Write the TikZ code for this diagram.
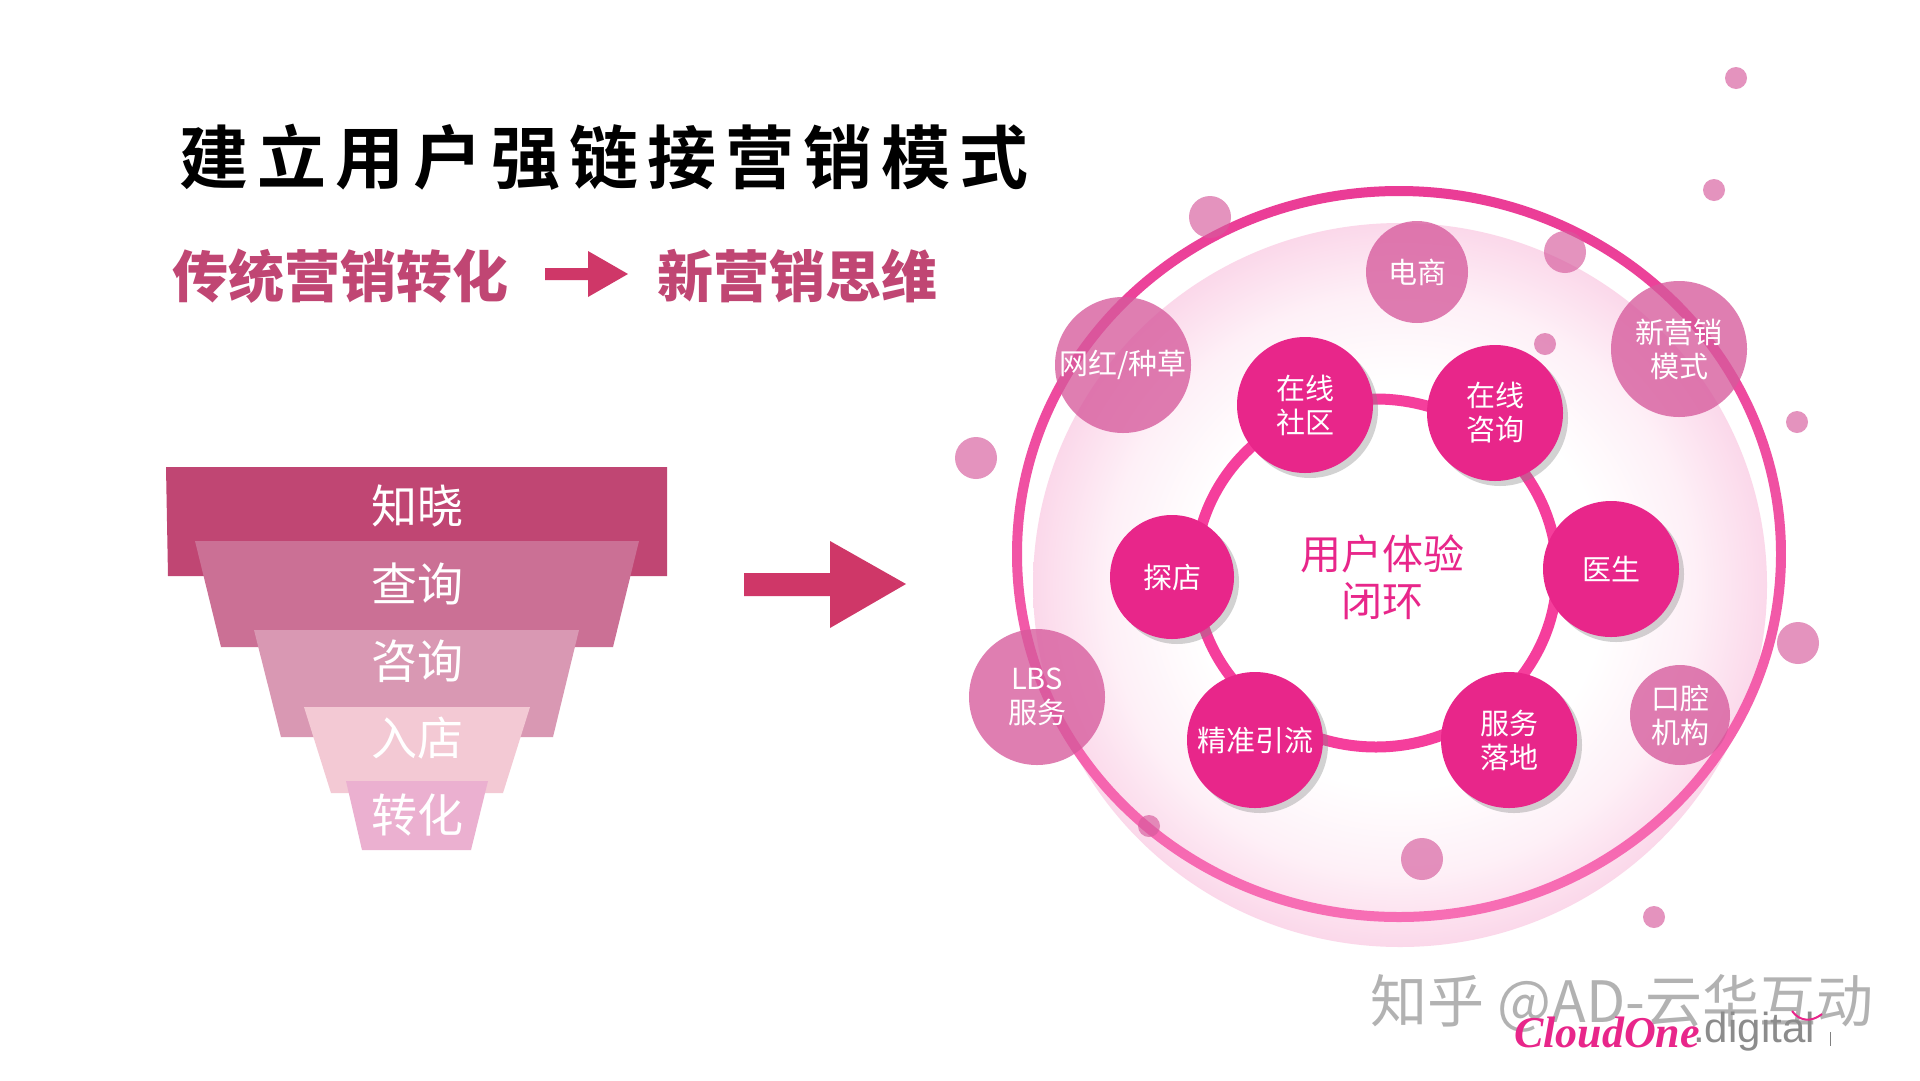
\documentclass[tikz,border=0pt]{standalone}
\usepackage{fontspec}
\usepackage{tikz}
\usetikzlibrary{positioning, shadows}
\setmainfont{Noto Sans CJK SC}
\newfontfamily\titlefont[LetterSpace=13,BoldFont={Noto Sans CJK SC Bold}]{Noto Sans CJK SC}
\newfontfamily\wmfont{Liberation Sans}
\newfontfamily\logofont{Liberation Serif}
\definecolor{rosedark}{HTML}{C04673}
\definecolor{rosemid}{HTML}{CB7095}
\definecolor{roselight}{HTML}{D998B3}
\definecolor{rosepale}{HTML}{F3C9D4}
\definecolor{rosefaint}{HTML}{EBB0D0}
\definecolor{arrowred}{HTML}{CF3768}
\definecolor{hotpink}{HTML}{E8268A}
\definecolor{ringpink}{HTML}{F53E9C}
\definecolor{palepink}{HTML}{D65A9C}
\definecolor{discrim}{HTML}{FBD8EA}
\definecolor{discmid}{HTML}{FEF0F7}
\pgfdeclareradialshading{discshade}{\pgfpointorigin}{color(0bp)=(white); color(14bp)=(white); color(20bp)=(discmid); color(25bp)=(discrim); color(50bp)=(discrim)}
\tikzset{
  ringnode/.style={circle, fill=hotpink, text=white, minimum size=136pt, inner sep=0pt, align=center,
    font=\fontsize{29}{34}\selectfont, drop shadow={opacity=0.35, shadow xshift=5pt, shadow yshift=-5pt}},
  palenode/.style={circle, fill=palepink, fill opacity=0.78, text opacity=1, text=white, minimum size=136pt, inner sep=0pt, align=center,
    font=\fontsize{29}{34}\selectfont},
  dotbig/.style={circle, fill=palepink, fill opacity=0.65, minimum size=42pt, inner sep=0pt},
  dotsmall/.style={circle, fill=palepink, fill opacity=0.65, minimum size=22pt, inner sep=0pt},
  funneltext/.style={text=white, font=\fontsize{46}{50}\selectfont},
}
\begin{document}
\begin{tikzpicture}[x=1pt, y=-1pt, on grid]
  \useasboundingbox (0,0) rectangle (1920,1080);
  \fill[white] (0,0) rectangle (1920,1080);

  % heading
  \node[font=\titlefont\bfseries\fontsize{69}{72}\selectfont] (title) at (604,157) {建立用户强链接营销模式};
  \node[text=rosedark, font=\bfseries\fontsize{56}{60}\selectfont] (oldway) at (340,276) {传统营销转化};
  \node[text=rosedark, font=\bfseries\fontsize{56}{60}\selectfont] (newway) at (797,276) {新营销思维};
  \fill[arrowred] (545,268) -- (588,268) -- (588,251) -- (628,274) -- (588,297) -- (588,280) -- (545,280) -- cycle;

  % funnel
  \fill[rosedark] (166,467) -- (667,467) -- (667,576) -- (168,576) -- cycle;
  \fill[rosemid] (195,541) -- (639,541) -- (613,647) -- (221,647) -- cycle;
  \fill[roselight] (254,630) -- (579,630) -- (553,737) -- (281,737) -- cycle;
  \fill[rosepale] (304,707) -- (530,707) -- (503,793) -- (331,793) -- cycle;
  \fill[rosefaint] (346,781) -- (488,781) -- (471,850) -- (362,850) -- cycle;
  \node[funneltext] (zhixiao) at (417,506) {知晓};
  \node[funneltext] (chaxun) [below=78pt of zhixiao] {查询};
  \node[funneltext] (zixun) [below=77pt of chaxun] {咨询};
  \node[funneltext] (rudian) [below=77pt of zixun] {入店};
  \node[funneltext] (zhuanhua) [below=77pt of rudian] {转化};
  \fill[arrowred] (744,573) -- (830,573) -- (830,541) -- (906,584) -- (830,628) -- (830,596) -- (744,596) -- cycle;

  % circles
  \shade[shading=discshade] (1400,585) ellipse [x radius=367, y radius=362];
  \shade[top color=hotpink!90!white, bottom color=ringpink!75!white, even odd rule]
    (1399,554) ellipse [x radius=387, y radius=368] (1399,554) ellipse [x radius=377, y radius=358];
  \draw[ringpink, line width=11pt] (1376,573) ellipse [x radius=181, y radius=174];

  \node[text=hotpink, align=center, font=\fontsize{41}{47}\selectfont] (hub) at (1382,577) {用户体验\\闭环};
  \node[ringnode] (shequ) [above left=172pt and 77pt of hub] {在线\\社区};
  \node[ringnode] (zixunb) [above right=164pt and 113pt of hub] {在线\\咨询};
  \node[ringnode] (yisheng) [above right=8pt and 229pt of hub] {医生};
  \node[ringnode] (luodi) [below right=163pt and 127pt of hub] {服务\\落地};
  \node[ringnode] (yinliu) [below left=163pt and 127pt of hub] {精准引流};
  \node[ringnode, minimum size=124pt] (tandian) [left=210pt of hub] {探店};

  \node[palenode, minimum size=102pt] (dianshang) at (1417,272) {电商};
  \node[palenode] (wanghong) at (1123,365) {网红/种草};
  \node[palenode] (moshi) at (1679,349) {新营销\\模式};
  \node[palenode] (lbs) at (1037,697) {LBS\\服务};
  \node[palenode, minimum size=100pt] (kouqiang) at (1680,715) {口腔\\机构};

  \node[dotsmall] (dota) at (1736,78) {};
  \node[dotsmall] (dotb) at (1714,190) {};
  \node[dotbig] (dotc) at (1210,217) {};
  \node[dotbig] (dotd) at (1565,252) {};
  \node[dotsmall] (dote) at (1545,344) {};
  \node[dotsmall] (dotf) at (1797,422) {};
  \node[dotbig] (dotg) at (976,458) {};
  \node[dotbig] (doth) at (1798,643) {};
  \node[dotsmall] (doti) at (1149,826) {};
  \node[dotbig] (dotj) at (1422,859) {};
  \node[dotsmall] (dotk) at (1654,917) {};

  % footer
  \node[text=black!30, font=\fontsize{57}{60}\selectfont] (zhihu) at (1622,1003) {知乎 @AD-云华互动};
  \node[text=hotpink, font=\logofont\itshape\bfseries\fontsize{44}{46}\selectfont] (cloud) at (1607,1032) {CloudOne};
  \node[text=black!45, font=\wmfont\fontsize{42}{44}\selectfont] (digital) [right=147pt of cloud] {.digital};
  \coordinate (tick) at (1830,1032);
  \coordinate (tickend) at (1830,1046);
  \draw[black!50] (tick) -- (tickend);
  \coordinate (marka) at (1792,1011);
  \coordinate (markb) at (1822,1014);
  \draw[hotpink, line width=2pt] (marka) .. controls (1800,1022) and (1812,1022) .. (markb);
\end{tikzpicture}
\end{document}
